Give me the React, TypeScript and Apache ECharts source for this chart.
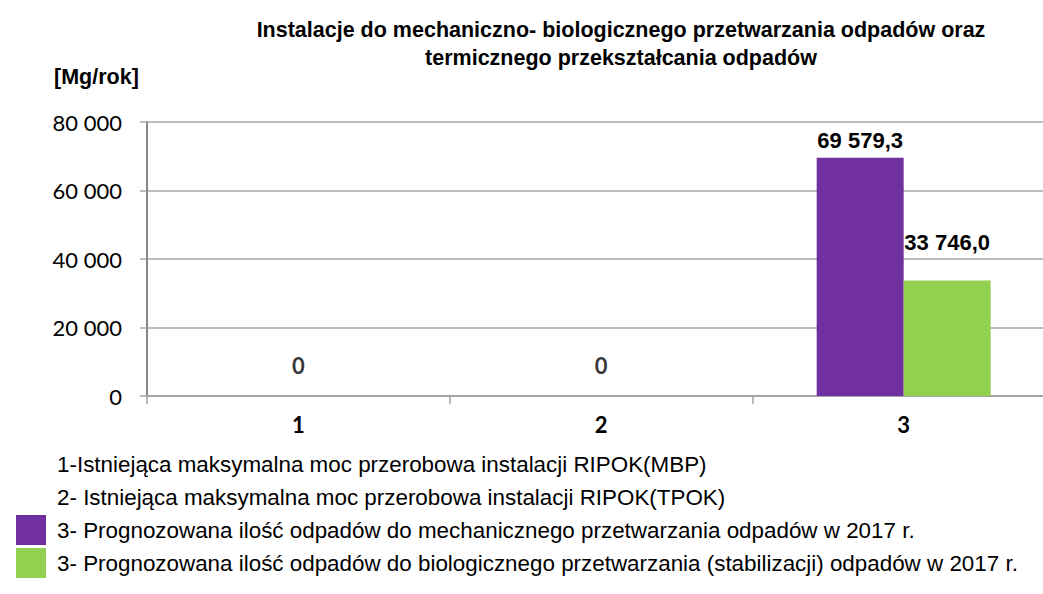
import React, { useEffect, useRef } from "react";
import * as echarts from "echarts";

const titleLines = [
  "Instalacje do mechaniczno- biologicznego przetwarzania odpadów oraz",
  "termicznego przekształcania odpadów",
];
const unitLabel = "[Mg/rok]";
const categories = ["1", "2", "3"];
const seriesNames = [
  "1-Istniejąca maksymalna moc przerobowa instalacji RIPOK(MBP)",
  "2- Istniejąca maksymalna moc przerobowa instalacji RIPOK(TPOK)",
  "3- Prognozowana ilość odpadów do mechanicznego przetwarzania odpadów w 2017 r.",
  "3- Prognozowana ilość odpadów do biologicznego przetwarzania (stabilizacji) odpadów w 2017 r.",
];
const mbpCapacity: (number | string)[] = [0, "-", "-"];
const tpokCapacity: (number | string)[] = ["-", 0, "-"];
const mechForecast: (number | string)[] = ["-", "-", 69579.3];
const bioForecast: (number | string)[] = ["-", "-", 33746.0];
const yMin = 0;
const yMax = 80000;
const yInterval = 20000;

const NARROW = "'Liberation Sans Narrow', 'Arial Narrow', 'Liberation Sans', Arial, sans-serif";
const CALIBRI = "Lato, 'Open Sans', sans-serif";

function groupThousands(n: number): string {
  const s = Math.round(n).toString();
  return s.replace(/\B(?=(\d{3})+(?!\d))/g, " ");
}
function fmtDec(v: number): string {
  const fixed = v.toFixed(1);
  const [i, d] = fixed.split(".");
  return groupThousands(Number(i)) + "," + d;
}

export default function App() {
  const ref = useRef<HTMLDivElement>(null);
  useEffect(() => {
    if (!ref.current) return;
    const chart = echarts.init(ref.current, undefined, { renderer: "svg" });
    chart.setOption({
      animation: false,
      backgroundColor: "#ffffff",
      title: [
        {
          text: titleLines.join("\n"),
          left: 616,
          top: 11,
          textAlign: "center",
          textStyle: {
            fontFamily: NARROW,
            fontWeight: "bold",
            fontSize: 21.5,
            lineHeight: 28,
            color: "#000",
          },
        },
        {
          text: unitLabel,
          left: 49,
          top: 61,
          textStyle: { fontFamily: NARROW, fontWeight: "bold", fontSize: 21.5, color: "#000" },
        },
      ],
      grid: { left: 147, top: 122, width: 908, height: 274, containLabel: false },
      legend: {
        orient: "vertical",
        left: 11,
        top: 444,
        itemWidth: 30,
        itemHeight: 30,
        itemGap: 3,
        icon: "rect",
        selectedMode: false,
        textStyle: {
          fontFamily: NARROW,
          fontSize: 22.4,
          color: "#000",
          padding: [0, 0, 0, 6],
        },
        data: seriesNames.map((n) => ({ name: n })),
      },
      xAxis: {
        type: "category",
        data: categories,
        axisLine: { lineStyle: { color: "#a6a6a6", width: 2 } },
        axisTick: { show: true, length: 8, lineStyle: { color: "#a6a6a6", width: 1.5 } },
        axisLabel: {
          fontFamily: CALIBRI,
          fontWeight: "bold",
          fontSize: 22,
          color: "#000",
          margin: 17,
        },
      },
      yAxis: {
        type: "value",
        min: yMin,
        max: yMax,
        interval: yInterval,
        axisLine: { show: true, lineStyle: { color: "#868686", width: 2 } },
        axisTick: { show: true, length: 7, lineStyle: { color: "#a6a6a6", width: 1.5 } },
        splitLine: { lineStyle: { color: "#a6a6a6", width: 1.5 } },
        axisLabel: {
          fontFamily: CALIBRI,
          fontSize: 22,
          color: "#000",
          margin: 25,
          formatter: (v: number) => groupThousands(v),
        },
      },
      series: [
        {
          name: seriesNames[0],
          type: "scatter",
          data: mbpCapacity,
          symbolSize: 0,
          itemStyle: { color: "transparent" },
          label: {
            show: true,
            position: "top",
            distance: 20,
            fontFamily: CALIBRI,
            fontWeight: "bold",
            fontSize: 22,
            color: "#000",
            formatter: (p: any) => groupThousands(p.value),
          },
        },
        {
          name: seriesNames[1],
          type: "scatter",
          data: tpokCapacity,
          symbolSize: 0,
          itemStyle: { color: "transparent" },
          label: {
            show: true,
            position: "top",
            distance: 20,
            fontFamily: CALIBRI,
            fontWeight: "bold",
            fontSize: 22,
            color: "#000",
            formatter: (p: any) => groupThousands(p.value),
          },
        },
        {
          name: seriesNames[2],
          type: "bar",
          data: mechForecast,
          barWidth: 87,
          barGap: "0%",
          itemStyle: { color: "#7030a0" },
          label: {
            show: true,
            position: "top",
            distance: 6,
            fontFamily: NARROW,
            fontWeight: "bold",
            fontSize: 22,
            color: "#000",
            formatter: (p: any) => fmtDec(p.value),
          },
        },
        {
          name: seriesNames[3],
          type: "bar",
          data: bioForecast,
          barWidth: 87,
          barGap: "0%",
          itemStyle: { color: "#92d050" },
          label: {
            show: true,
            position: "top",
            distance: 27,
            fontFamily: NARROW,
            fontWeight: "bold",
            fontSize: 22,
            color: "#000",
            formatter: (p: any) => fmtDec(p.value),
          },
        },
      ],
    });
    return () => chart.dispose();
  }, []);
  return (
    <div
      style={{
        position: "fixed",
        left: 0,
        top: 0,
        width: 1043,
        height: 594,
        overflow: "hidden",
        background: "#fff",
      }}
    >
      <div ref={ref} style={{ width: 1060, height: 594 }} />
    </div>
  );
}
